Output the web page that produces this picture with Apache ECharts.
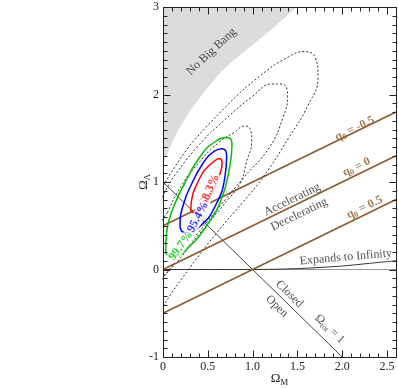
<!DOCTYPE html>
<html>
<head>
<meta charset="utf-8">
<script src="https://cdn.jsdelivr.net/npm/echarts@6/dist/echarts.min.js"></script>
<style>
  html, body { margin: 0; padding: 0; background: #fff; }
  #main { width: 398px; height: 388px; }
</style>
</head>
<body>
<div id="main"></div>
<script>
// axis ranges
const xRange = [0, 2.6];
const yRange = [-1, 3];

// "No Big Bang" boundary (area above is shaded)
const bigBangEdge = [[0, 1.2], [0.05, 1.33], [0.15, 1.55], [0.28, 1.78], [0.43, 1.99], [0.71, 2.32], [1.16, 2.70], [1.49, 3.0]];

// deceleration parameter lines
const qMinusHalf = [[0, 0.5], [2.6, 1.8]];
const qZero = [[0, 0], [2.6, 1.3]];
const qHalf = [[0, -0.5], [2.6, 0.8]];

// flat universe, Omega_tot = 1
const flatLine = [[0, 1], [2, -1]];
// Omega_Lambda = 0 and the "expands to infinity" edge
const zeroLine = [[0, 0], [2.6, 0]];
const infinityEdge = [[0, 0], [1, 0], [1.5, 0.01], [2, 0.04], [2.3, 0.07], [2.6, 0.1]];

// confidence contours
const red683 = [[0.45, 1.12], [0.55, 1.22], [0.63, 1.27], [0.66, 1.22], [0.62, 1.05], [0.55, 0.88], [0.46, 0.73], [0.36, 0.65], [0.31, 0.68], [0.33, 0.85], [0.38, 0.98], [0.45, 1.12]];
const blue954 = [[0.32, 0.98], [0.45, 1.22], [0.57, 1.35], [0.66, 1.38], [0.71, 1.30], [0.69, 1.05], [0.59, 0.74], [0.43, 0.51], [0.26, 0.42], [0.19, 0.5], [0.22, 0.72], [0.32, 0.98]];
const green997 = [[0.25, 1.0], [0.42, 1.30], [0.58, 1.46], [0.72, 1.51], [0.77, 1.43], [0.74, 1.15], [0.65, 0.80], [0.50, 0.52], [0.30, 0.27], [0.12, 0.15], [0.03, 0.2], [0.04, 0.42], [0.12, 0.72], [0.25, 1.0]];
const dotInner = [[0.05, 0.65], [0.20, 0.95], [0.40, 1.22], [0.62, 1.45], [0.80, 1.57], [0.91, 1.64], [0.97, 1.61], [0.99, 1.48], [0.93, 1.22], [0.86, 0.98], [0.75, 0.83], [0.4, 0.40], [0.1, 0.02], [-0.05, -0.1], [-0.1, 0.3], [0.05, 0.65]];
const dotMiddle = [[0.1, 1.03], [0.38, 1.40], [0.7, 1.72], [1.0, 1.98], [1.22, 2.12], [1.33, 2.12], [1.39, 1.98], [1.34, 1.74], [1.19, 1.40], [0.9, 1.05], [0.6, 0.68], [0.3, 0.3], [0.0, -0.1], [-0.12, -0.3], [-0.18, 0.2], [-0.1, 0.6], [0.1, 1.03]];
const dotOuter = [[0.30, 1.42], [0.71, 1.87], [1.08, 2.21], [1.40, 2.43], [1.58, 2.49], [1.70, 2.42], [1.73, 2.2], [1.62, 1.88], [1.4, 1.5], [1.12, 1.06], [0.9, 0.78], [0.6, 0.42], [0.3, 0.02], [0.0, -0.42], [-0.15, -0.7], [-0.28, -0.2], [-0.2, 0.5], [0.0, 0.95], [0.30, 1.42]];

// annotations: [text, x, y, rotation (deg), colour, bold]
const notes = [
  ['No Big Bang', 0.54, 2.49, 43, '#222', false],
  ['68.3%', 0.52, 0.91, 66, '#ff0000', true],
  ['95.4%', 0.39, 0.60, 62, '#0000ff', true],
  ['99.7%', 0.20, 0.27, 54, '#00c000', true],
  ['Accelerating', 1.44, 0.80, 26, '#222', false],
  ['Decelerating', 1.52, 0.63, 26, '#222', false],
  ['{t|q}{s|0}{t| = -0.5}', 2.14, 1.61, 26, '#8b5a2b', true],
  ['{t|q}{s|0}{t| = 0}', 2.16, 1.17, 26, '#8b5a2b', true],
  ['{t|q}{s|0}{t| = 0.5}', 2.25, 0.71, 26, '#8b5a2b', true],
  ['Expands to Infinity', 2.04, 0.14, 5, '#222', false],
  ['Closed', 1.41, -0.28, -44, '#222', false],
  ['Open', 1.27, -0.42, -44, '#222', false],
  ['{t|Ω}{s|tot}{t| = 1}', 1.86, -0.68, -44, '#222', false]
];

const serif = 'Liberation Serif';
const brown = '#8b5a2b';
const frameColor = '#222';

function lineSeries(data, color, width, type, extra) {
  return Object.assign({
    type: 'line',
    data: data,
    showSymbol: false,
    symbol: 'none',
    silent: true,
    lineStyle: { color: color, width: width, type: type || 'solid' },
    z: 3
  }, extra || {});
}

// library axes carry the tick labels and titles; the box + ticks are drawn by the frame series below
function axis(range, step, label) {
  return {
    type: 'value',
    min: range[0], max: range[1], interval: step,
    axisLine: { show: false },
    axisTick: { show: false },
    minorTick: { show: false },
    splitLine: { show: false },
    minorSplitLine: { show: false },
    axisLabel: label
  };
}

const nameRich = {
  t: { fontFamily: serif, fontSize: 13, color: '#222' },
  s: { fontFamily: serif, fontSize: 9, color: '#222', padding: [7, 0, 0, 0] }
};

const xBottom = axis(xRange, 0.5, {
  color: '#222', fontFamily: serif, fontSize: 12, margin: 4, showMaxLabel: false,
  formatter: v => (v === 0 ? '0' : v.toFixed(1))
});
xBottom.name = '{t|Ω}{s|M}';
xBottom.nameLocation = 'middle';
xBottom.nameGap = 14;
xBottom.nameMoveOverlap = false;
xBottom.nameTextStyle = { rich: nameRich };

const yLeft = axis(yRange, 1, { color: '#222', fontFamily: serif, fontSize: 12, margin: 4 });
yLeft.name = '{t|Ω}{s|Λ}';
yLeft.nameLocation = 'middle';
yLeft.nameGap = 11;
yLeft.nameRotate = 90;
yLeft.nameMoveOverlap = false;
yLeft.nameTextStyle = { rich: nameRich };

// plot box with inward ticks on all four sides (0.1 minor steps)
function renderFrame(params, api) {
  const cs = params.coordSys;
  const px = v => Math.round(v) + 0.5;
  const x0 = px(cs.x), x1 = px(cs.x + cs.width);
  const y0 = px(cs.y), y1 = px(cs.y + cs.height);
  const st = { stroke: frameColor, lineWidth: 1 };
  const seg = (a, b, c, d) => ({ type: 'line', shape: { x1: a, y1: b, x2: c, y2: d }, style: st });
  const children = [{ type: 'rect', shape: { x: x0, y: y0, width: x1 - x0, height: y1 - y0 }, style: { fill: 'none', stroke: frameColor, lineWidth: 1 } }];
  for (let i = Math.round(xRange[0] * 10); i <= Math.round(xRange[1] * 10); i++) {
    const x = px(api.coord([i / 10, yRange[0]])[0]);
    const len = i % 5 === 0 ? 7 : 4;
    children.push(seg(x, y1, x, y1 - len), seg(x, y0, x, y0 + len));
  }
  for (let i = Math.round(yRange[0] * 10); i <= Math.round(yRange[1] * 10); i++) {
    const y = px(api.coord([xRange[0], i / 10])[1]);
    const len = i % 10 === 0 ? 7 : 4;
    children.push(seg(x0, y, x0 + len, y), seg(x1, y, x1 - len, y));
  }
  return { type: 'group', children: children };
}

// annotation labels carried by invisible scatter points
const noteData = notes.map(n => {
  const isPct = n[0].indexOf('%') > 0;
  const weight = n[5] ? 'bold' : 'normal';
  return {
    value: [n[1], n[2]],
    label: {
      show: true,
      position: 'inside',
      formatter: n[0],
      rotate: n[3],
      color: n[4],
      textBorderWidth: 0,
      fontFamily: serif,
      fontSize: 12,
      fontWeight: weight,
      align: 'center',
      verticalAlign: 'middle',
      backgroundColor: isPct ? '#fff' : 'transparent',
      padding: isPct ? [0, 1] : 0,
      rich: {
        t: { color: n[4], fontFamily: serif, fontSize: 12, fontWeight: weight },
        s: { color: n[4], fontFamily: serif, fontSize: 8, fontWeight: weight, padding: [6, 0, 0, 0] }
      }
    }
  };
});

const chart = echarts.init(document.getElementById('main'));
chart.setOption({
  animation: false,
  backgroundColor: '#fff',
  grid: { left: 163, right: 2, top: 7, bottom: 31, outerBoundsMode: 'none' },
  xAxis: xBottom,
  yAxis: yLeft,
  series: [
    lineSeries(bigBangEdge, '#dcdcdc', 0, 'solid', {
      smooth: 0.3, areaStyle: { origin: 'end', color: '#dcdcdc', opacity: 1 }, z: 1
    }),
    lineSeries(zeroLine, '#999', 1),
    lineSeries(infinityEdge, '#333', 1, 'solid', { smooth: 0.3 }),
    lineSeries(flatLine, '#444', 1),
    lineSeries(qMinusHalf, brown, 1.5),
    lineSeries(qZero, brown, 1.5),
    lineSeries(qHalf, brown, 1.5),
    lineSeries(dotOuter, '#333', 1, [2, 2], { smooth: 0.5 }),
    lineSeries(dotMiddle, '#333', 1, [2, 2], { smooth: 0.5 }),
    lineSeries(dotInner, '#333', 1, [2, 2], { smooth: 0.5 }),
    lineSeries(green997, '#00c000', 1.5, 'solid', { smooth: 0.5, z: 4 }),
    lineSeries(blue954, '#0000ff', 1.5, 'solid', { smooth: 0.5, z: 4 }),
    lineSeries(red683, '#ff0000', 1.5, 'solid', { smooth: 0.5, z: 4 }),
    {
      type: 'scatter',
      silent: true,
      symbolSize: 1,
      itemStyle: { color: 'rgba(0,0,0,0)' },
      data: noteData,
      z: 10
    },
    {
      type: 'custom',
      silent: true,
      clip: false,
      renderItem: renderFrame,
      data: [[0, 0]],
      z: 20
    }
  ]
});
window.addEventListener('resize', () => chart.resize());
</script>
</body>
</html>
